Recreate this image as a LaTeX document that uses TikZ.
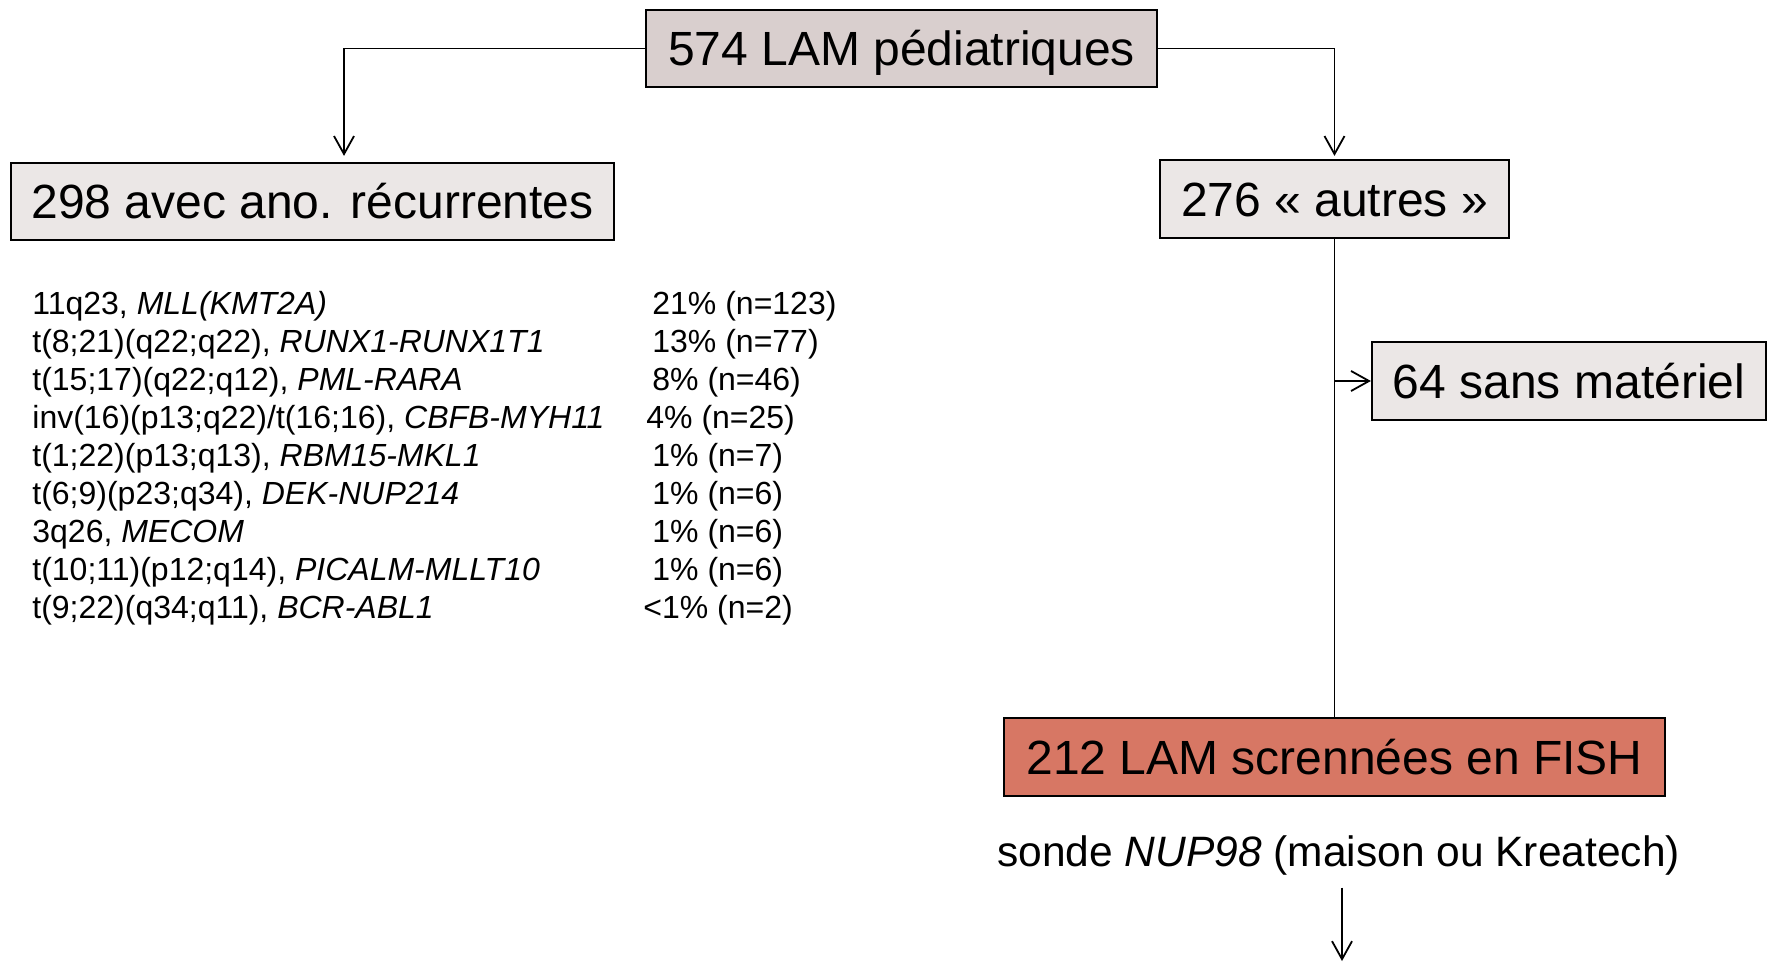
\documentclass[tikz,border=0pt]{standalone}
\usepackage{fontspec}
\setmainfont{Liberation Sans}
\usetikzlibrary{arrows.meta}

\definecolor{rosegris}{HTML}{D9CFCE}
\definecolor{grisclair}{HTML}{EBE7E6}
\definecolor{saumon}{HTML}{D77764}

\begin{document}
\begin{tikzpicture}[x=0.5pt,y=-0.5pt,
    boite/.style={draw=black, line width=1.1pt, inner sep=0pt,
      text height=17.2pt, text depth=0pt,
      font=\fontsize{24}{28}\selectfont},
    lien/.style={line width=0.9pt,
      -{Straight Barb[length=9pt,width=10pt,line width=0.9pt]}},
    ligne/.style={anchor=base west, inner sep=0pt,
      font=\fontsize{16}{19}\selectfont}]

      \useasboundingbox (0,0) rectangle (1775,964);

      % The starting box.
      \node[boite, fill=rosegris, minimum width=255.5pt,
      minimum height=38.5pt] (total) at (901.5,48.5)
      {574 LAM pédiatriques};

      % The two branches below it.
      \node[boite, fill=grisclair, minimum width=301.5pt,
      minimum height=38.5pt] (recurrentes) at (312.5,201.5)
      {298 avec ano. récurrentes};
      \node[boite, fill=grisclair, minimum width=174.5pt,
      minimum height=39pt] (autres) at (1334.5,199)
      {276 « autres »};

      \draw[lien, shorten >=3pt] (total.west) -|
      ([xshift=15.75pt]recurrentes.north);
      \draw[lien, shorten >=1.5pt] (total.east) -| (autres.north);

      % List of the recurrent anomalies, with their share.
      \node[ligne] (g1) at (32,314) {11q23, \textit{MLL(KMT2A)}};
      \node[ligne] (p1) at (652,314) {21\% (n=123)};
      \node[ligne] (g2) at (32,352.1)
      {t(8;21)(q22;q22), \textit{RUNX1-RUNX1T1}};
      \node[ligne] (p2) at (652,352.1) {13\% (n=77)};
      \node[ligne] (g3) at (32,390.2)
      {t(15;17)(q22;q12), \textit{PML-RARA}};
      \node[ligne] (p3) at (652,390.2) {8\% (n=46)};
      \node[ligne] (g4) at (32,428.3)
      {inv(16)(p13;q22)/t(16;16), \textit{CBFB-MYH11}};
      \node[ligne] (p4) at (646,428.3) {4\% (n=25)};
      \node[ligne] (g5) at (32,466.4)
      {t(1;22)(p13;q13), \textit{RBM15-MKL1}};
      \node[ligne] (p5) at (652,466.4) {1\% (n=7)};
      \node[ligne] (g6) at (32,504.5)
      {t(6;9)(p23;q34), \textit{DEK-NUP214}};
      \node[ligne] (p6) at (652,504.5) {1\% (n=6)};
      \node[ligne] (g7) at (32,542.6) {3q26, \textit{MECOM}};
      \node[ligne] (p7) at (652,542.6) {1\% (n=6)};
      \node[ligne] (g8) at (32,580.7)
      {t(10;11)(p12;q14), \textit{PICALM-MLLT10}};
      \node[ligne] (p8) at (652,580.7) {1\% (n=6)};
      \node[ligne] (g9) at (32,618.8)
      {t(9;22)(q34;q11), \textit{BCR-ABL1}};
      \node[ligne] (p9) at (643,618.8) {<1\% (n=2)};

      % The cases without material.
      \node[boite, fill=grisclair, minimum width=197pt,
      minimum height=39pt] (sansmat) at (1569,381)
      {64 sans matériel};

      % The screened cases.
      \node[boite, fill=saumon, minimum width=330.5pt,
      minimum height=39pt] (fish) at (1334.5,757)
      {212 LAM scrennées en FISH};

      \draw[line width=0.9pt] (autres.south) -- (fish.north);
      \draw[lien] (autres.south |- sansmat.west) -- (sansmat.west);

      % The probe, and the arrow going on below.
      \node[anchor=base, inner sep=0pt,
      font=\fontsize{21.25}{25}\selectfont] (sonde) at (1338.5,866.5)
      {sonde \textit{NUP98} (maison ou Kreatech)};
      \coordinate (fin) at (1342,961);
      \draw[lien] ([yshift=-6pt]sonde.south -| fin) -- (fin);
    \end{tikzpicture}
\end{document}
